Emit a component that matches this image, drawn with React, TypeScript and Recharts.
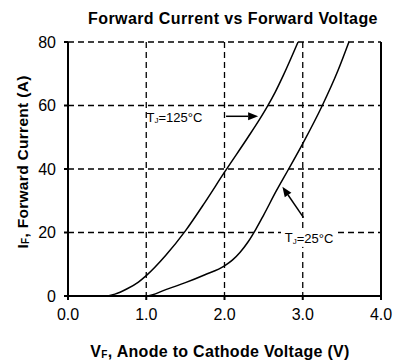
import React from 'react';
import { LineChart, Line, XAxis, YAxis, CartesianGrid, ReferenceLine, ReferenceDot } from 'recharts';

const hotVoltage = [0, 0.3, 0.45, 0.6, 0.75, 0.9, 1.0, 1.25, 1.5, 1.75, 2.0, 2.3, 2.45, 2.55, 2.65, 2.75, 2.94];
const hotCurrent = [0, 0, 0, 0.6, 2.2, 4.4, 6.4, 12.8, 20.5, 29.5, 39, 50, 55.7, 59.8, 64.3, 69.4, 80];
const roomVoltage = [0, 0.5, 1.0, 1.25, 1.5, 1.75, 2.0, 2.1, 2.2, 2.3, 2.4, 2.5, 2.66, 2.82, 3.0, 3.25, 3.45, 3.59];
const roomCurrent = [0, 0, 0, 2.0, 4.2, 6.7, 9.5, 11.3, 13.8, 17, 21, 25.5, 33, 40, 48, 60, 71, 80];
const xTicks = [0, 1, 2, 3, 4];
const yTicks = [0, 20, 40, 60, 80];

const hotData = hotVoltage.map((v, i) => ({ v, a: hotCurrent[i] }));
const roomData = roomVoltage.map((v, i) => ({ v, a: roomCurrent[i] }));

const FONT = '"Liberation Sans", Arial, sans-serif';

const Arrow = (props: any) => {
  const { x1, y1, x2, y2 } = props;
  const ang = Math.atan2(y2 - y1, x2 - x1);
  const len = 10;
  const w = 4;
  const bx = x2 - len * Math.cos(ang);
  const by = y2 - len * Math.sin(ang);
  const px = -Math.sin(ang) * w;
  const py = Math.cos(ang) * w;
  return (
    <g>
      <line x1={x1} y1={y1} x2={bx} y2={by} stroke="#000" strokeWidth={1.5} />
      <polygon points={`${x2},${y2} ${bx + px},${by + py} ${bx - px},${by - py}`} fill="#000" />
    </g>
  );
};

const TjLabel = (text: string, bg: boolean) => (props: any) => {
  const { cx, cy } = props;
  return (
    <g>
      {bg && <rect x={cx - 28} y={cy - 9} width={56} height={18} fill="#fff" />}
      <text x={cx} y={cy} textAnchor="middle" dominantBaseline="central" fontFamily={FONT} fontSize={13} fill="#000">
        T<tspan fontSize={8} dy={3}>J</tspan>
        <tspan dy={-3}>{text}</tspan>
      </text>
    </g>
  );
};

export default function App() {
  return (
    <div style={{ position: 'absolute', left: 0, top: 0, width: 397, height: 362, background: '#fff' }}>
      <LineChart width={397} height={362} margin={{ top: 42, right: 16, bottom: 36, left: 0 }}>
        <CartesianGrid stroke="#000" strokeWidth={1.3} strokeDasharray="6 4" />
        <XAxis
          dataKey="v"
          type="number"
          domain={[0, 4]}
          ticks={xTicks}
          tickFormatter={(t: number) => t.toFixed(1)}
          allowDuplicatedCategory={false}
          height={30}
          stroke="#000"
          strokeWidth={2}
          tickSize={4}
          tickMargin={9}
          tick={{ fill: '#000', fontSize: 16, fontFamily: FONT }}
        />
        <YAxis
          type="number"
          domain={[0, 80]}
          ticks={yTicks}
          width={68}
          stroke="#000"
          strokeWidth={2}
          tickSize={4}
          tickMargin={8}
          tick={{ fill: '#000', fontSize: 16, fontFamily: FONT }}
        />
        <ReferenceLine x={4} stroke="#000" strokeWidth={2} />
        <Line data={hotData} dataKey="a" type="monotone" stroke="#000" strokeWidth={1.5} dot={false} isAnimationActive={false} />
        <Line data={roomData} dataKey="a" type="monotone" stroke="#000" strokeWidth={1.5} dot={false} isAnimationActive={false} />
        <ReferenceLine segment={[{ x: 2.02, y: 56.6 }, { x: 2.43, y: 56.6 }]} shape={Arrow} />
        <ReferenceLine segment={[{ x: 3.01, y: 24.7 }, { x: 2.74, y: 34.4 }]} shape={Arrow} />
        <ReferenceDot x={1.36} y={56.3} r={0} shape={TjLabel('=125°C', false)} />
        <ReferenceDot x={3.08} y={18.3} r={0} shape={TjLabel('=25°C', true)} />
      </LineChart>
      <svg width={397} height={362} style={{ position: 'absolute', left: 0, top: 0, pointerEvents: 'none' }}>
        <text x={233} y={18} textAnchor="middle" dominantBaseline="central" fontFamily={FONT} fontWeight="bold" fontSize={16} letterSpacing={0.4} fill="#000">
          Forward Current vs Forward Voltage
        </text>
        <text x={220} y={351} textAnchor="middle" dominantBaseline="central" fontFamily={FONT} fontWeight="bold" fontSize={16} letterSpacing={0.3} fill="#000">
          V<tspan fontSize={10} dy={3}>F</tspan>
          <tspan dy={-3}>, Anode to Cathode Voltage (V)</tspan>
        </text>
        <text x={22} y={162} transform="rotate(-90 22 162)" textAnchor="middle" dominantBaseline="central" fontFamily={FONT} fontWeight="bold" fontSize={15.5} letterSpacing={0.3} fill="#000">
          I<tspan fontSize={10} dy={3}>F</tspan>
          <tspan dy={-3}>, Forward Current (A)</tspan>
        </text>
      </svg>
    </div>
  );
}
